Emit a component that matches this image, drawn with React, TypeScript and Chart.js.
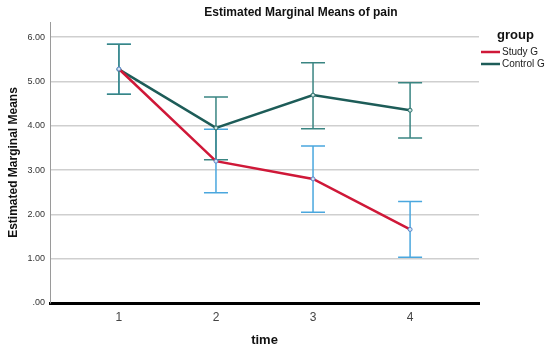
import React, { useEffect, useRef } from 'react';
import { Chart, registerables } from 'chart.js';

Chart.register(...registerables);

const times = [1, 2, 3, 4];
const timeLabels = ['1', '2', '3', '4'];
const studyMeans = [5.28, 3.2, 2.8, 1.66];
const studyLower = [4.71, 2.49, 2.05, 1.03];
const studyUpper = [5.84, 3.92, 3.54, 2.29];
const controlMeans = [5.27, 3.95, 4.69, 4.35];
const controlLower = [4.71, 3.23, 3.93, 3.72];
const controlUpper = [5.84, 4.65, 5.42, 4.97];
const yTickValues = [0, 1, 2, 3, 4, 5, 6];
const yTickLabels = ['.00', '1.00', '2.00', '3.00', '4.00', '5.00', '6.00'];
const groupNames = ['Study G', 'Control G'];

const FONT = '"Liberation Sans", Arial, sans-serif';
const STUDY_LINE = '#cf1838';
const CONTROL_LINE = '#1d5c58';
const STUDY_ERR = '#4aa7de';
const CONTROL_ERR = '#3a8582';

export default function App() {
  const ref = useRef<HTMLCanvasElement | null>(null);

  useEffect(() => {
    if (!ref.current) return;

    const errorBars = {
      id: 'errorBars',
      beforeDatasetsDraw(chart: any) {
        const ctx = chart.ctx;
        const xs = chart.scales.x;
        const ys = chart.scales.y;
        const groups = [
          { lo: studyLower, hi: studyUpper, color: STUDY_ERR },
          { lo: controlLower, hi: controlUpper, color: CONTROL_ERR },
        ];
        ctx.save();
        ctx.lineWidth = 1.5;
        for (const g of groups) {
          ctx.strokeStyle = g.color;
          times.forEach((t, i) => {
            const x = xs.getPixelForValue(t);
            const y1 = ys.getPixelForValue(g.lo[i]);
            const y2 = ys.getPixelForValue(g.hi[i]);
            ctx.beginPath();
            ctx.moveTo(x, y1);
            ctx.lineTo(x, y2);
            ctx.moveTo(x - 12, y1);
            ctx.lineTo(x + 12, y1);
            ctx.moveTo(x - 12, y2);
            ctx.lineTo(x + 12, y2);
            ctx.stroke();
          });
        }
        ctx.restore();
      },
    };

    const decor = {
      id: 'decor',
      afterDraw(chart: any) {
        const ctx = chart.ctx;
        ctx.save();
        ctx.fillStyle = '#111';
        ctx.textBaseline = 'middle';
        ctx.textAlign = 'center';
        ctx.font = `bold 12px ${FONT}`;
        ctx.fillText('Estimated Marginal Means of pain', 301, 13);
        ctx.textAlign = 'left';
        ctx.font = `bold 13px ${FONT}`;
        ctx.fillText('group', 497, 35);
        ctx.font = `10px ${FONT}`;
        const cols = [STUDY_LINE, CONTROL_LINE];
        groupNames.forEach((n, i) => {
          const y = 52 + i * 12;
          ctx.strokeStyle = cols[i];
          ctx.lineWidth = 2.5;
          ctx.beginPath();
          ctx.moveTo(481, y);
          ctx.lineTo(500, y);
          ctx.stroke();
          ctx.fillStyle = '#222';
          ctx.fillText(n, 502, y + 0.5);
        });
        ctx.restore();
      },
    };

    const chart = new Chart(ref.current, {
      type: 'line',
      data: {
        datasets: [
          {
            label: groupNames[0],
            data: times.map((t, i) => ({ x: t, y: studyMeans[i] })),
            borderColor: STUDY_LINE,
            borderWidth: 2.5,
            pointRadius: 2,
            pointBorderWidth: 1,
            pointBorderColor: '#5a86c8',
            pointBackgroundColor: '#d5e6f5',
            tension: 0,
          },
          {
            label: groupNames[1],
            data: times.map((t, i) => ({ x: t, y: controlMeans[i] })),
            borderColor: CONTROL_LINE,
            borderWidth: 2.5,
            pointRadius: 2,
            pointBorderWidth: 1,
            pointBorderColor: '#2a6e6a',
            pointBackgroundColor: '#d0e6e4',
            tension: 0,
          },
        ],
      },
      options: {
        animation: false,
        responsive: true,
        maintainAspectRatio: false,
        layout: { padding: { top: 22, right: 71, left: 0, bottom: 0 } },
        plugins: {
          legend: { display: false },
          tooltip: { enabled: false },
          title: { display: false },
        },
        scales: {
          x: {
            type: 'linear',
            min: 0.29,
            max: 4.71,
            afterBuildTicks: (s: any) => {
              s.ticks = times.map((v) => ({ value: v }));
            },
            afterFit: (s: any) => {
              s.height = 48;
            },
            grid: { display: false, drawTicks: false },
            border: { display: true, color: '#000', width: 3 },
            ticks: {
              padding: 7,
              color: '#444',
              font: { family: FONT, size: 12 },
              callback: (v: any) => {
                const i = times.indexOf(Number(v));
                return i >= 0 ? timeLabels[i] : '';
              },
            },
            title: {
              display: true,
              text: 'time',
              color: '#111',
              font: { family: FONT, size: 13, weight: 'bold' },
              padding: { top: 4, bottom: 3 },
            },
          },
          y: {
            type: 'linear',
            min: 0,
            max: 6.34,
            afterBuildTicks: (s: any) => {
              s.ticks = yTickValues.map((v) => ({ value: v }));
            },
            afterFit: (s: any) => {
              s.width = 50;
            },
            grid: { color: '#cfcfcf', lineWidth: 1.5, drawTicks: false },
            border: { display: true, color: '#9a9a9a', width: 1 },
            ticks: {
              padding: 5,
              color: '#333',
              font: { family: FONT, size: 9 },
              callback: (v: any) => {
                const i = yTickValues.indexOf(Number(v));
                return i >= 0 ? yTickLabels[i] : '';
              },
            },
            title: {
              display: true,
              text: 'Estimated Marginal Means',
              color: '#111',
              font: { family: FONT, size: 12, weight: 'bold' },
              padding: { top: 6, bottom: 4 },
            },
          },
        },
      },
      plugins: [errorBars, decor],
    });

    return () => chart.destroy();
  }, []);

  return (
    <div style={{ position: 'fixed', left: 0, top: 0, width: 550, height: 351, background: '#fff' }}>
      <canvas ref={ref} />
    </div>
  );
}
